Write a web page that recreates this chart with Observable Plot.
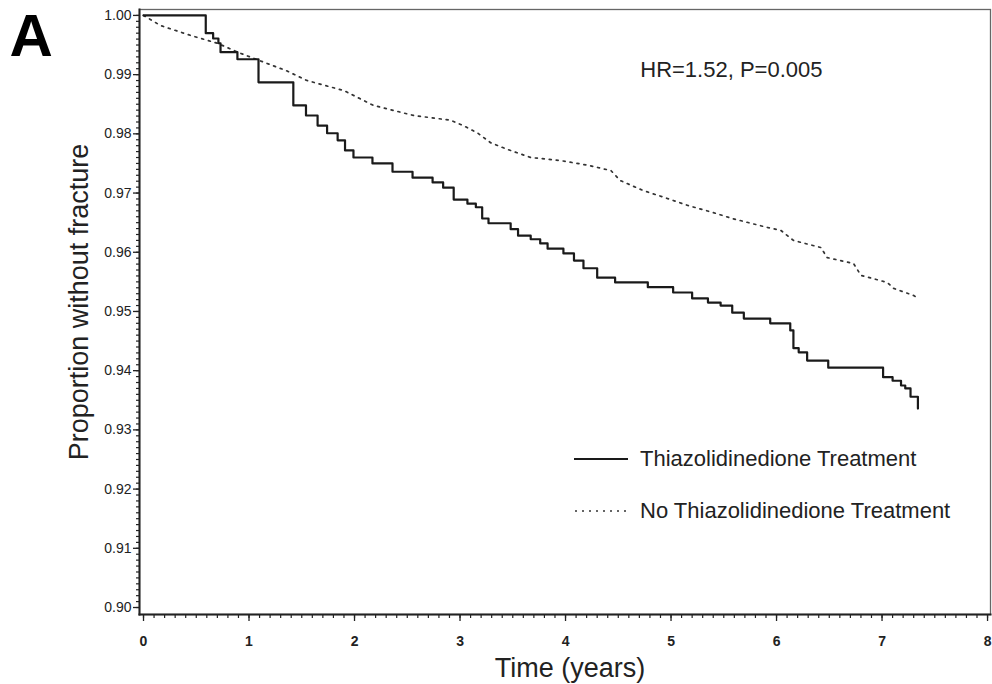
<!DOCTYPE html>
<html>
<head>
<meta charset="utf-8">
<script src="https://cdn.jsdelivr.net/npm/d3@7"></script>
<script src="https://cdn.jsdelivr.net/npm/@observablehq/plot@0.6"></script>
<style>
  html, body { margin: 0; padding: 0; background: #fff; }
  #wrap { position: relative; width: 992px; height: 684px; font-family: "Liberation Sans", Arial, sans-serif; }
  #legend { position: absolute; left: 574px; top: 446px; font-size: 22px; color: #222; }
  #legend .row { display: flex; align-items: center; height: 26px; white-space: nowrap; }
  #legend .row + .row { margin-top: 26px; }
  #legend span { margin-left: 12px; }
</style>
</head>
<body>
<div id="wrap"></div>
<script>
// ---- data ----
const treatTime = [0, 0.59, 0.66, 0.71, 0.73, 0.89, 1.09, 1.42, 1.54, 1.65, 1.74, 1.84, 1.91, 1.99, 2.17, 2.36, 2.55, 2.74, 2.84, 2.94, 3.07, 3.15, 3.21, 3.27, 3.48, 3.55, 3.67, 3.76, 3.83, 3.98, 4.08, 4.17, 4.30, 4.47, 4.78, 5.02, 5.20, 5.35, 5.47, 5.58, 5.69, 5.94, 6.13, 6.16, 6.21, 6.29, 6.49, 7.01, 7.10, 7.18, 7.22, 7.27, 7.34];
const treatSurv = [1.0000, 0.9970, 0.9961, 0.9953, 0.9938, 0.9926, 0.9887, 0.9848, 0.9831, 0.9814, 0.9801, 0.9789, 0.9772, 0.9760, 0.9750, 0.9736, 0.9726, 0.9718, 0.9709, 0.9689, 0.9682, 0.9676, 0.9657, 0.9649, 0.9639, 0.9628, 0.9622, 0.9615, 0.9606, 0.9598, 0.9586, 0.9573, 0.9557, 0.9549, 0.9541, 0.9532, 0.9522, 0.9515, 0.9510, 0.9498, 0.9488, 0.9480, 0.9468, 0.9438, 0.9431, 0.9417, 0.9405, 0.9389, 0.9383, 0.9375, 0.9370, 0.9356, 0.9336];

const noTreatTime = [0, 0.16, 0.45, 0.70, 0.92, 1.14, 1.35, 1.55, 1.90, 2.18, 2.56, 2.91, 3.03, 3.17, 3.29, 3.43, 3.67, 3.95, 4.21, 4.43, 4.52, 4.74, 4.93, 5.16, 5.40, 5.58, 5.91, 6.04, 6.16, 6.42, 6.48, 6.73, 6.80, 7.05, 7.11, 7.30, 7.34];
const noTreatSurv = [1.0000, 0.9983, 0.9966, 0.9953, 0.9936, 0.9921, 0.9907, 0.9890, 0.9873, 0.9848, 0.9831, 0.9823, 0.9814, 0.9801, 0.9785, 0.9775, 0.9760, 0.9755, 0.9747, 0.9738, 0.9721, 0.9704, 0.9693, 0.9679, 0.9667, 0.9657, 0.9642, 0.9637, 0.9620, 0.9608, 0.9591, 0.9581, 0.9561, 0.9549, 0.9539, 0.9527, 0.9522];

const seriesNames = ["Thiazolidinedione Treatment", "No Thiazolidinedione Treatment"];
const xMajorTicks = [0, 1, 2, 3, 4, 5, 6, 7, 8];
const yMajorTicks = [0.90, 0.91, 0.92, 0.93, 0.94, 0.95, 0.96, 0.97, 0.98, 0.99, 1.00];
const panelLabel = "A";
const statText = "HR=1.52, P=0.005";
const xLabel = "Time (years)";
const yLabel = "Proportion without fracture";

// ---- build tables ----
const treat = treatTime.map((t, i) => ({t, s: treatSurv[i]}));
const noTreat = noTreatTime.map((t, i) => ({t, s: noTreatSurv[i]}));
const xMinorTicks = d3.range(0, 81).map(i => i / 10);
const yMinorTicks = d3.range(900, 1001).map(i => i / 1000);

const font = "'Liberation Sans', Arial, sans-serif";

const chart = Plot.plot({
  width: 992,
  height: 684,
  marginLeft: 139,
  marginRight: 2,
  marginTop: 9,
  marginBottom: 70,
  style: {fontFamily: font, background: "#fff", color: "#111", overflow: "visible"},
  x: {domain: [-0.038, 8.028]},
  y: {domain: [0.89882, 1.001]},
  marks: [
    Plot.frame({stroke: "#666", strokeWidth: 1.3}),
    Plot.frame({anchor: "left", stroke: "#222", strokeWidth: 2}),
    Plot.frame({anchor: "bottom", stroke: "#222", strokeWidth: 2}),
    Plot.axisY(yMinorTicks, {tickSize: 3, fill: "none", stroke: "#222", strokeWidth: 1.2}),
    Plot.axisY(yMajorTicks, {tickSize: 6, tickPadding: 2, tickFormat: d3.format(".2f"), fontSize: 14, label: null, stroke: "#222", strokeWidth: 1.3, fill: "#222"}),
    Plot.axisX(xMinorTicks, {tickSize: 4, fill: "none", stroke: "#222", strokeWidth: 1.2}),
    Plot.axisX(xMajorTicks, {tickSize: 7, tickPadding: 15, fontSize: 14, fontWeight: "bold", label: null, stroke: "#222", strokeWidth: 1.3, fill: "#222"}),
    Plot.line(noTreat, {x: "t", y: "s", curve: "linear", stroke: "#333", strokeWidth: 1.7, strokeDasharray: "2,5"}),
    Plot.line(treat, {x: "t", y: "s", curve: "step-after", stroke: "#1a1a1a", strokeWidth: 2.2}),
    Plot.text([panelLabel], {frameAnchor: "top-left", dx: -130, dy: 3.4, textAnchor: "start", lineAnchor: "top", fontSize: 60, fontWeight: "bold", fill: "#000"}),
    Plot.text([statText], {frameAnchor: "top-right", dx: -168, dy: 60, textAnchor: "end", lineAnchor: "middle", fontSize: 22, fill: "#222"}),
    Plot.text([yLabel], {frameAnchor: "left", dx: -60, dy: -10, rotate: -90, textAnchor: "middle", lineAnchor: "middle", fontSize: 27, fill: "#222"}),
    Plot.text([xLabel], {frameAnchor: "bottom", dx: 5, dy: 62, textAnchor: "middle", lineAnchor: "bottom", fontSize: 27, fill: "#222"})
  ]
});

const wrap = document.getElementById("wrap");
wrap.appendChild(chart);

// legend overlay
const legend = document.createElement("div");
legend.id = "legend";
legend.innerHTML =
  `<div class="row"><svg width="54" height="6"><line x1="0" x2="54" y1="3" y2="3" stroke="#1a1a1a" stroke-width="2.2"/></svg><span>${seriesNames[0]}</span></div>` +
  `<div class="row"><svg width="54" height="6"><line x1="1" x2="54" y1="3" y2="3" stroke="#333" stroke-width="1.7" stroke-dasharray="2,5"/></svg><span>${seriesNames[1]}</span></div>`;
wrap.appendChild(legend);
</script>
</body>
</html>
